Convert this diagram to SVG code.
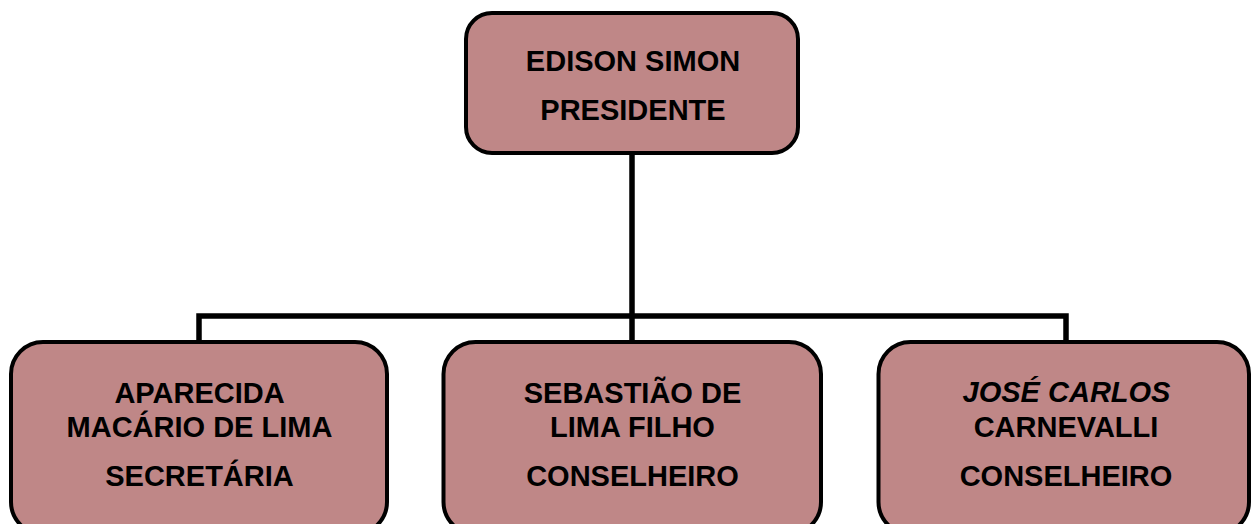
<svg xmlns="http://www.w3.org/2000/svg" width="1251" height="524" viewBox="0 0 1251 524">
<style>
.box{fill:#bf8787;stroke:#000;stroke-width:4}
.t{font-family:"Liberation Sans",Arial,sans-serif;font-weight:bold;font-size:29px;fill:#000;text-anchor:middle}
.it{font-style:italic}
.con{fill:none;stroke:#000;stroke-width:5.5}
</style>
<rect width="1251" height="524" fill="#fff"/>
<g id="connectors">
<path class="con" d="M632 153 V316 M199 342 V316 H1066 V342 M632 316 V342"/>
</g>
<g id="presidente">
<rect class="box" x="466" y="13" width="332" height="140" rx="26"/>
<text class="t" x="633" y="71">EDISON SIMON</text>
<text class="t" x="633" y="120">PRESIDENTE</text>
</g>
<g id="secretaria">
<rect class="box" x="11" y="342" width="376" height="192" rx="32"/>
<text class="t" x="199.5" y="403">APARECIDA</text>
<text class="t" x="199.5" y="437">MACÁRIO DE LIMA</text>
<text class="t" x="199.5" y="486">SECRETÁRIA</text>
</g>
<g id="conselheiro1">
<rect class="box" x="443.5" y="342" width="377.5" height="192" rx="32"/>
<text class="t" x="632.5" y="403">SEBASTIÃO DE</text>
<text class="t" x="632.5" y="437">LIMA FILHO</text>
<text class="t" x="632.5" y="486">CONSELHEIRO</text>
</g>
<g id="conselheiro2">
<rect class="box" x="878.5" y="342" width="370.5" height="192" rx="32"/>
<text class="t it" x="1066.5" y="402">JOSÉ CARLOS</text>
<text class="t" x="1066" y="437">CARNEVALLI</text>
<text class="t" x="1066" y="486">CONSELHEIRO</text>
</g>
</svg>
